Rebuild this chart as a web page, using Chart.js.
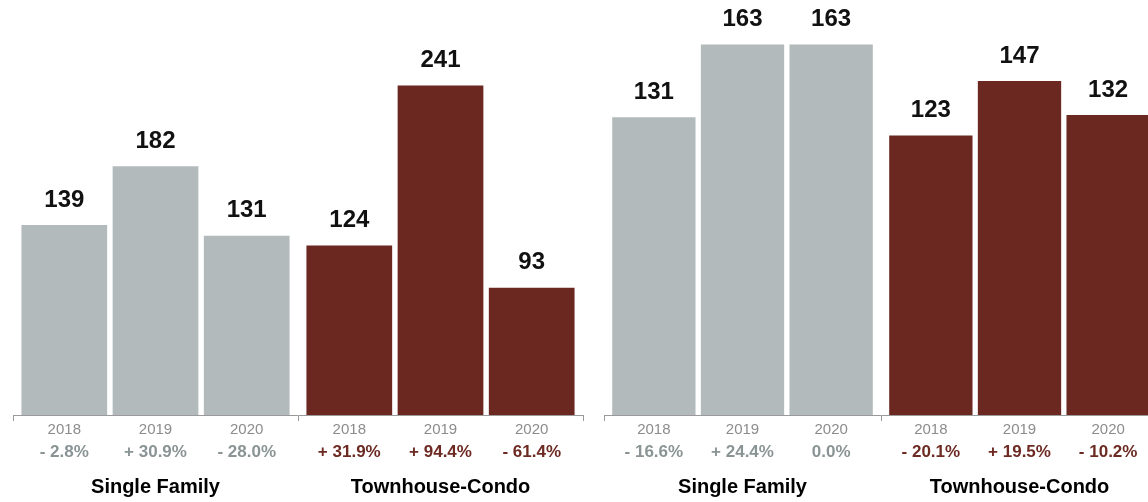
<!DOCTYPE html>
<html>
<head>
<meta charset="utf-8">
<script src="https://cdn.jsdelivr.net/npm/chart.js@4.4.1/dist/chart.umd.min.js"></script>
<style>
  html, body { margin: 0; padding: 0; background: #fff; overflow: hidden; width: 1148px; height: 502px; }
  canvas { position: absolute; top: 0; }
  #c1 { left: 0; }
  #c2 { left: 591px; }
</style>
</head>
<body>
<canvas id="c1" width="596" height="502" style="width:596px;height:502px"></canvas>
<canvas id="c2" width="567" height="502" style="width:567px;height:502px"></canvas>
<script>
// ---- data ----
const groups = ["Single Family", "Townhouse-Condo"];
const years = ["2018", "2019", "2020"];

const leftSingleFamily = [139, 182, 131];
const leftTownhouse = [124, 241, 93];
const leftSingleFamilyPct = ["- 2.8%", "+ 30.9%", "- 28.0%"];
const leftTownhousePct = ["+ 31.9%", "+ 94.4%", "- 61.4%"];

const rightSingleFamily = [131, 163, 163];
const rightTownhouse = [123, 147, 132];
const rightSingleFamilyPct = ["- 16.6%", "+ 24.4%", "0.0%"];
const rightTownhousePct = ["- 20.1%", "+ 19.5%", "- 10.2%"];

const GREY = "#b3babb";
const RED = "#6b2821";
const GREY_TXT = "#8a9494";
const RED_TXT = "#6c2a22";
const FONT = "'Liberation Sans', Arial, Helvetica, sans-serif";

const labelPlugin = {
  id: "barLabels",
  afterDatasetsDraw(chart, args, opts) {
    const ctx = chart.ctx;
    const bottom = chart.chartArea.bottom;
    const xs = chart.scales.x;
    ctx.save();
    ctx.textAlign = "center";
    ctx.textBaseline = "middle";
    chart.data.datasets.forEach((ds, d) => {
      const meta = chart.getDatasetMeta(d);
      meta.data.forEach((el, i) => {
        const x = el.x;
        ctx.font = "bold 24px " + FONT;
        ctx.fillStyle = "#111";
        ctx.fillText(String(ds.data[i]), x, el.y - 25);
        ctx.font = "15px " + FONT;
        ctx.fillStyle = "#8c8c8c";
        ctx.fillText(years[d], x, bottom + 15);
        ctx.font = "bold 17px " + FONT;
        ctx.fillStyle = i === 0 ? GREY_TXT : RED_TXT;
        ctx.fillText(opts.pct[i][d], x, bottom + 37);
      });
    });
    ctx.font = "bold 20px " + FONT;
    ctx.fillStyle = "#000";
    chart.data.labels.forEach((lab, i) => {
      ctx.fillText(lab, xs.getPixelForValue(i), bottom + 72);
    });
    ctx.restore();
  }
};

function makeChart(id, sf, tc, sfPct, tcPct, yMax, padL, padR) {
  const datasets = years.map((y, k) => ({
    label: y,
    data: [sf[k], tc[k]],
    backgroundColor: [GREY, RED],
    borderWidth: 0,
    categoryPercentage: 0.96,
    barPercentage: 0.94
  }));
  return new Chart(document.getElementById(id), {
    type: "bar",
    data: { labels: groups, datasets },
    plugins: [labelPlugin],
    options: {
      responsive: false,
      animation: false,
      devicePixelRatio: 1,
      layout: { padding: { left: padL, right: padR, top: 0, bottom: 0 } },
      plugins: {
        legend: { display: false },
        tooltip: { enabled: false },
        barLabels: { pct: [sfPct, tcPct] }
      },
      scales: {
        x: {
          grid: { display: true, drawOnChartArea: false, drawTicks: true, tickLength: 6, color: "#9a9a9a", offset: true },
          border: { display: true, color: "#9a9a9a", width: 1 },
          ticks: { display: false },
          afterFit(scale) { scale.height = 87; }
        },
        y: { display: false, min: 0, max: yMax }
      }
    }
  });
}

makeChart("c1", leftSingleFamily, leftTownhouse, leftSingleFamilyPct, leftTownhousePct, 303.5, 13, 13);
makeChart("c2", rightSingleFamily, rightTownhouse, rightSingleFamilyPct, rightTownhousePct, 182.6, 13, 0);
</script>
</body>
</html>
